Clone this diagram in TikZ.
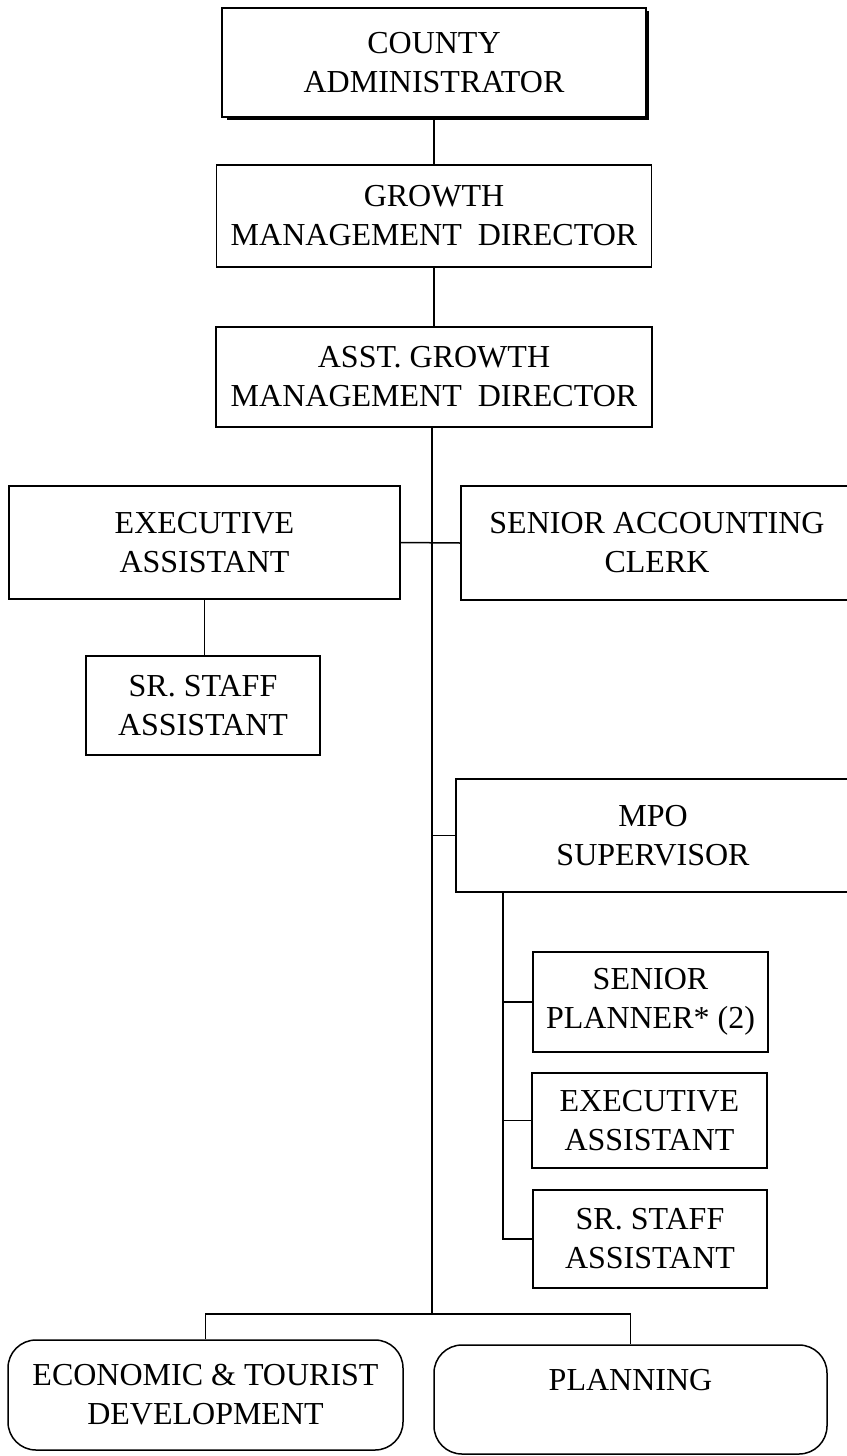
\documentclass[tikz,border=0pt]{standalone}
\usepackage{fontspec}
\setmainfont{Liberation Serif}
\begin{document}
\begin{tikzpicture}[x=1pt,y=-1pt,
  orgbox/.style={draw, line width=1.5pt, align=center, inner sep=0pt,
    font=\fontsize{32}{39}\selectfont},
  unitbox/.style={orgbox, rounded corners=28pt},
  link/.style={line width=1.5pt}]
\useasboundingbox (0,0) rectangle (846,1456);

% top of the chain
\node[orgbox, minimum width=424pt, minimum height=109pt] (county) at (434,62.5) {COUNTY\\ADMINISTRATOR};
\draw[line width=3.5pt] ([xshift=6pt]county.south west) -- (county.south east) -- ([yshift=-4pt]county.north east);
\node[orgbox, minimum width=435pt, minimum height=102pt] (growth) at (434,216) {GROWTH\\MANAGEMENT\ \ DIRECTOR};
\node[orgbox, minimum width=436pt, minimum height=100pt] (asst) at (434,377) {ASST. GROWTH\\MANAGEMENT\ \ DIRECTOR};

% staff offices
\node[orgbox, minimum width=391pt, minimum height=113pt] (exec) at (204.5,542.5) {EXECUTIVE\\ASSISTANT};
\node[orgbox, minimum width=392pt, minimum height=114pt] (sracct) at (657,543) {SENIOR ACCOUNTING\\CLERK};
\node[orgbox, minimum width=234pt, minimum height=99pt] (srstaff) at (203,705.5) {SR. STAFF\\ASSISTANT};

% MPO branch
\node[orgbox, minimum width=394pt, minimum height=113pt] (mpo) at (653,835.5) {MPO\\SUPERVISOR};
\node[orgbox, minimum width=235pt, minimum height=100pt] (planner) at (650.5,1002) {SENIOR\\PLANNER* (2)};
\node[orgbox, minimum width=235pt, minimum height=95pt] (mpoexec) at (649.5,1120.5) {EXECUTIVE\\ASSISTANT};
\node[orgbox, minimum width=234pt, minimum height=98pt] (mposr) at (650,1239) {SR. STAFF\\ASSISTANT};

% divisions
\node[unitbox, minimum width=395pt, minimum height=110pt] (econ) at (205.5,1395) {ECONOMIC \& TOURIST\\DEVELOPMENT};
\node[unitbox, minimum width=393pt, minimum height=109pt] (plan) at (630.5,1399.5) {PLANNING\\\phantom{X}};

% connectors
\coordinate (bar) at (432,1314);
\coordinate (mpospine) at (503,892);
\draw[link] (county.south) -- (growth.north);
\draw[link] (growth.south) -- (asst.north);
\draw[link] (asst.south -| bar) -- (bar);
\draw[link] (exec.east) -- (sracct.west);
\draw[link] (exec.south) -- (exec.south |- srstaff.north);
\draw[link] (mpo.west -| bar) -- (mpo.west);
\draw[link] (mpospine) |- (mposr.west);
\draw[link] (planner.west -| mpospine) -- (planner.west);
\draw[link] (mpoexec.west -| mpospine) -- (mpoexec.west);
\draw[link] (econ.north) |- (bar) -| (plan.north);
\end{tikzpicture}
\end{document}
